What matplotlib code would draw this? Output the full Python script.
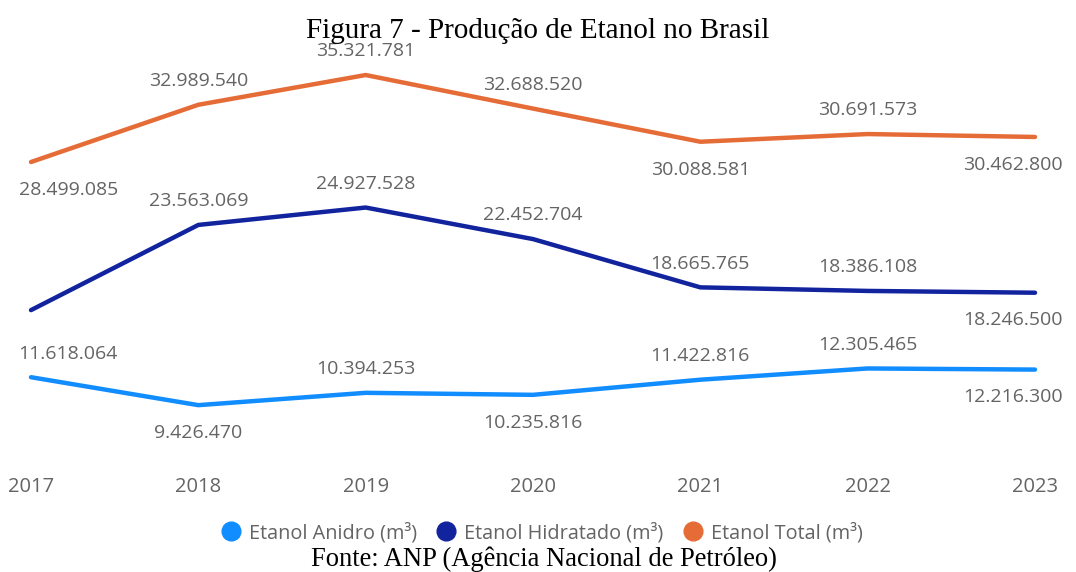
import matplotlib.pyplot as plt

anos = [2017, 2018, 2019, 2020, 2021, 2022, 2023]
anidro = [11618064, 9426470, 10394253, 10235816, 11422816, 12305465, 12216300]
# 2017 hidratado has no label in the source; estimated from total - anidro
hidratado = [16881021, 23563069, 24927528, 22452704, 18665765, 18386108, 18246500]
total = [28499085, 32989540, 35321781, 32688520, 30088581, 30691573, 30462800]

def fmt(v):
    return f"{v:,}".replace(",", ".")

series = [
    ("Etanol Anidro (m³)", anidro, "#118DFF", ["a", "b", "a", "b", "a", "a", "b"]),
    ("Etanol Hidratado (m³)", hidratado, "#12239E", [None, "a", "a", "a", "a", "a", "b"]),
    ("Etanol Total (m³)", total, "#E66C37", ["b", "a", "a", "a", "b", "a", "b"]),
]

W, H = 1076, 572
fig = plt.figure(figsize=(W / 100, H / 100), dpi=100)
# axes box in pixels: x 31..1035, y 60..470
ax = fig.add_axes([31 / W, 1 - 470 / H, (1035 - 31) / W, 410 / H])
ax.set_xlim(2017, 2023)
ax.set_ylim(4.34e6, 36.5e6)
ax.axis("off")

lab_font = dict(family=["Open Sans", "DejaVu Sans"], size=14, color="#646464")

for nome, vals, cor, pos in series:
    ax.plot(anos, vals, color=cor, lw=3.2, solid_capstyle="round", clip_on=False)
    for x, v, p in zip(anos, vals, pos):
        if p is None:
            continue
        dy = 17 if p == "a" else -20
        ha = "center"
        dx = 0
        if x == anos[0]:
            ha, dx = "left", -9
        elif x == anos[-1]:
            ha, dx = "right", 20
        ax.annotate(fmt(v), (x, v), xytext=(dx, dy), textcoords="offset points",
                    ha=ha, va="center", annotation_clip=False, **lab_font)

# x tick labels
for x in anos:
    ax.annotate(str(x), (x, 4.34e6), xytext=(0, -12), textcoords="offset points",
                ha="center", va="center", annotation_clip=False,
                **dict(lab_font, size=14.5))

fig.text(0.5, 1 - 31 / H, "Figura 7 - Produção de Etanol no Brasil",
         ha="center", va="center", family="Liberation Serif", size=21)

handles = [plt.Line2D([], [], ls="", marker="o", ms=13.5, color=c) for _, _, c, _ in series]
fig.legend(handles, [s[0] for s in series], loc="center", bbox_to_anchor=(537 / W, 1 - 533 / H),
           ncol=3, frameon=False, handletextpad=-0.1, columnspacing=0.5,
           prop=dict(family=["Open Sans", "DejaVu Sans"], size=14.3), labelcolor="#646464")

fig.text(544 / W, 1 - 559 / H, "Fonte: ANP (Agência Nacional de Petróleo)",
         ha="center", va="center", family="Liberation Serif", size=19.1)

fig.savefig("out.png", dpi=100)
